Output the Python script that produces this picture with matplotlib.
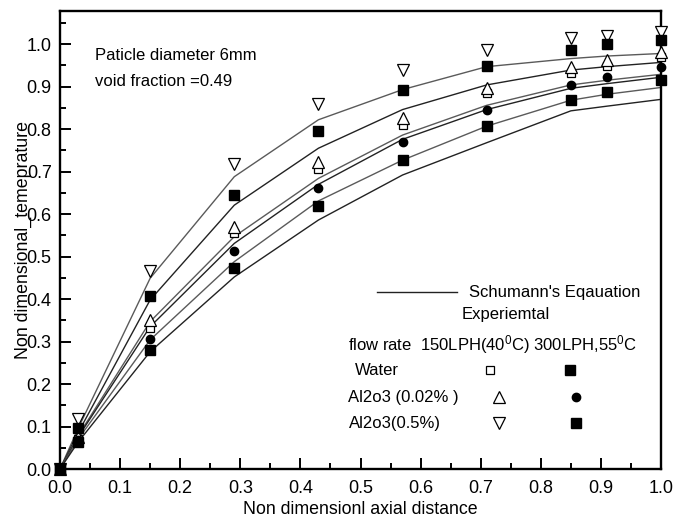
import matplotlib
matplotlib.use("Agg")
import matplotlib.pyplot as plt
from matplotlib.ticker import MultipleLocator

plt.rcParams['font.family'] = ['Liberation Sans', 'DejaVu Sans']
plt.rcParams['mathtext.fontset'] = 'custom'
plt.rcParams['mathtext.rm'] = 'Liberation Sans'
plt.rcParams['mathtext.it'] = 'Liberation Sans:italic'

# axial positions
x = [0, 0.03, 0.15, 0.29, 0.43, 0.57, 0.71, 0.85, 0.91, 1.0]

# Schumann's equation curves
schumann_1 = [0, 0.095, 0.449, 0.688, 0.822, 0.893, 0.947, 0.966, 0.972, 0.978]
schumann_2 = [0, 0.085, 0.398, 0.621, 0.755, 0.846, 0.904, 0.939, 0.947, 0.957]
schumann_3 = [0, 0.078, 0.347, 0.547, 0.684, 0.786, 0.856, 0.904, 0.915, 0.929]
schumann_4 = [0, 0.075, 0.335, 0.531, 0.670, 0.776, 0.846, 0.896, 0.907, 0.922]
schumann_5 = [0, 0.070, 0.304, 0.488, 0.631, 0.727, 0.807, 0.868, 0.882, 0.898]
schumann_6 = [0, 0.063, 0.276, 0.452, 0.586, 0.692, 0.768, 0.843, 0.854, 0.870]

# experimental
water_150 = [0, 0.070, 0.333, 0.555, 0.707, 0.809, 0.884, 0.933, 0.949, 0.969]
water_300 = [0, 0.063, 0.280, 0.472, 0.619, 0.727, 0.807, 0.868, 0.888, 0.915]
al002_150 = [0, 0.075, 0.351, 0.570, 0.723, 0.825, 0.896, 0.947, 0.962, 0.982]
al002_300 = [0, 0.068, 0.307, 0.514, 0.662, 0.769, 0.846, 0.904, 0.922, 0.947]
al05_150 = [0, 0.117, 0.467, 0.719, 0.858, 0.939, 0.986, 1.015, 1.020, 1.029]
al05_300 = [0, 0.096, 0.408, 0.646, 0.795, 0.892, 0.948, 0.986, 1.000, 1.009]

fig = plt.figure(figsize=(6.73, 5.24), dpi=100)
ax = fig.add_axes([60/673, 55/524, 601/673, 458/524])

for i, s in enumerate([schumann_1, schumann_2, schumann_3, schumann_4, schumann_5, schumann_6]):
    ax.plot(x, s, color='#5a5a5a' if i % 2 == 0 else '#222222', lw=1.0, zorder=2)

kw = dict(ls='none', clip_on=False, zorder=3)
ax.plot(x, water_150, marker='s', ms=5.5, mfc='white', mec='black', mew=0.9, **kw)
ax.plot(x, al002_150, marker='^', ms=8.5, mfc='white', mec='black', mew=0.9, **kw)
ax.plot(x, al05_150, marker='v', ms=8.5, mfc='white', mec='black', mew=0.9, **kw)
ax.plot(x, al002_300, marker='o', ms=6, mfc='black', mec='black', **kw)
ax.plot(x, water_300, marker='s', ms=6.5, mfc='black', mec='black', **kw)
ax.plot(x, al05_300, marker='s', ms=6.5, mfc='black', mec='black', **kw)

ax.set_xlim(0, 1.0)
ax.set_ylim(0, 1.078)
ax.xaxis.set_major_locator(MultipleLocator(0.1))
ax.xaxis.set_minor_locator(MultipleLocator(0.05))
ax.yaxis.set_major_locator(MultipleLocator(0.1))
ax.yaxis.set_minor_locator(MultipleLocator(0.05))
ax.xaxis.set_major_formatter(plt.FormatStrFormatter('%.1f'))
ax.yaxis.set_major_formatter(plt.FormatStrFormatter('%.1f'))
ax.tick_params(which='both', direction='in', top=False, right=False, width=1.4, labelsize=13)
ax.tick_params(axis='x', which='major', length=8, pad=8)
ax.tick_params(axis='y', which='major', length=8, pad=6)
ax.tick_params(which='minor', length=4.5)
for sp in ax.spines.values():
    sp.set_linewidth(1.7)

ax.set_xlabel('Non dimensionl axial distance', fontsize=12.8, labelpad=3)
ax.set_ylabel('Non dimensional_temeprature', fontsize=12.8)
ax.yaxis.set_label_coords(-0.046, 0.5)

ax.text(0.058, 0.902, 'Paticle diameter 6mm', transform=ax.transAxes, fontsize=12, va='center')
ax.text(0.058, 0.845, 'void fraction =0.49', transform=ax.transAxes, fontsize=12, va='center')

# legend
T = ax.transAxes
lk = dict(transform=T, clip_on=False, ls='none')
ax.plot([0.528, 0.661], [0.386, 0.386], color='#222222', lw=1.0, transform=T, clip_on=False)
ax.text(0.681, 0.386, "Schumann's Eqauation", transform=T, fontsize=12, va='center')
ax.text(0.668, 0.338, 'Experiemtal', transform=T, fontsize=12, va='center')
ax.text(0.480, 0.271, r'flow rate  150LPH(40$^\mathrm{0}$C) 300LPH,55$^\mathrm{0}$C', transform=T, fontsize=12, va='center')
ax.text(0.490, 0.216, 'Water', transform=T, fontsize=12, va='center')
ax.text(0.480, 0.157, 'Al2o3 (0.02% )', transform=T, fontsize=12, va='center')
ax.text(0.480, 0.100, 'Al2o3(0.5%)', transform=T, fontsize=12, va='center')
ax.plot([0.716], [0.216], marker='s', ms=5.5, mfc='white', mec='black', mew=0.9, **lk)
ax.plot([0.849], [0.216], marker='s', ms=6.5, mfc='black', mec='black', **lk)
ax.plot([0.731], [0.157], marker='^', ms=8.5, mfc='white', mec='black', mew=0.9, **lk)
ax.plot([0.859], [0.157], marker='o', ms=6, mfc='black', mec='black', **lk)
ax.plot([0.731], [0.100], marker='v', ms=8.5, mfc='white', mec='black', mew=0.9, **lk)
ax.plot([0.859], [0.100], marker='s', ms=6.5, mfc='black', mec='black', **lk)

fig.savefig('out.png', dpi=100)
